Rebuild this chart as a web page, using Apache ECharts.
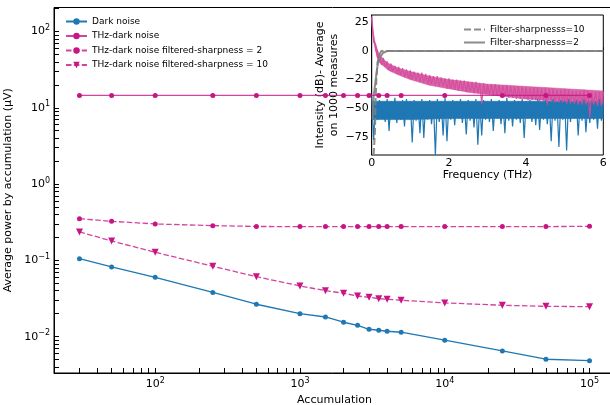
<!DOCTYPE html>
<html><head><meta charset="utf-8">
<script src="https://cdn.jsdelivr.net/npm/echarts@6/dist/echarts.min.js"></script>
<style>html,body{margin:0;padding:0;background:#fff}#c{width:610px;height:405px}</style>
</head><body><div id="c"></div>
<script>
// ---- main chart data ----
const accumulation = [30,50,100,250,500,1000,1500,2000,2500,3000,3500,4000,5000,10000,25000,50000,100000];
const darkNoise = [0.105,0.082,0.060,0.038,0.0266,0.0200,0.0181,0.01545,0.0141,0.0125,0.01214,0.01178,0.01143,0.00898,0.0065,0.00506,0.00485];
const thzDarkNoise = [14.5,14.5,14.5,14.5,14.5,14.5,14.5,14.5,14.5,14.5,14.5,14.5,14.5,14.5,14.5,14.5,14.5];
const filtered2 = [0.352,0.325,0.300,0.285,0.278,0.277,0.277,0.277,0.277,0.277,0.277,0.277,0.277,0.277,0.277,0.277,0.279];
const filtered10 = [0.2356,0.1795,0.1276,0.0837,0.0611,0.0462,0.0401,0.0371,0.0341,0.0328,0.0315,0.0309,0.0300,0.0277,0.0258,0.0250,0.0247];
const xTickLabels = [100,1000,10000,100000];
const yTickLabels = [0.01,0.1,1,10,100];
const xMinorTicks = [20,30,40,50,60,70,80,90,100,200,300,400,500,600,700,800,900,1000,2000,3000,4000,5000,6000,7000,8000,9000,10000,20000,30000,40000,50000,60000,70000,80000,90000,100000];
const yMinorTicks = [0.004,0.005,0.006,0.007,0.008,0.009,0.01,0.02,0.03,0.04,0.05,0.06,0.07,0.08,0.09,0.1,0.2,0.3,0.4,0.5,0.6,0.7,0.8,0.9,1,2,3,4,5,6,7,8,9,10,20,30,40,50,60,70,80,90,100,200];

// ---- inset data (dB) ----
// noisy traces sampled every 0.05 THz from 0 to 6
const freqStep = 0.05;
const insetDark = [-40,-78,-44,-60,-43,-58,-45,-62,-42,-70,-44,-59,-41,-63,-45,-60,-43,-66,-42,-58,-44,-80,-43,-61,-45,-72,-42,-76,-44,-60,-43,-64,-45,-91,-42,-62,-44,-74,-41,-79,-45,-60,-43,-65,-44,-59,-42,-63,-45,-73,-43,-61,-44,-67,-42,-82,-45,-74,-43,-60,-44,-62,-42,-70,-45,-59,-43,-64,-44,-72,-41,-61,-45,-66,-43,-60,-44,-63,-42,-76,-45,-59,-43,-62,-44,-65,-42,-69,-45,-60,-43,-64,-44,-79,-42,-61,-45,-84,-43,-60,-44,-87,-42,-62,-45,-59,-43,-74,-44,-61,-42,-71,-45,-63,-43,-60,-44,-68,-42,-61,-45];
const insetTHz = [30,8,6,-6,-3,-12,-6,-14,-9,-17,-11,-18,-13,-20,-14,-21,-15,-23,-16,-24,-17,-25,-18,-26,-19,-27,-19,-28,-20,-29,-21,-29,-22,-30,-22,-31,-23,-31,-24,-33,-24,-33,-25,-34,-25,-35,-26,-35,-26,-36,-27,-36,-27,-37,-27,-37,-28,-46,-28,-38,-29,-38,-29,-39,-29,-39,-30,-40,-30,-40,-30,-41,-31,-41,-31,-42,-31,-42,-31,-42,-32,-43,-32,-43,-32,-43,-32,-44,-33,-44,-33,-47,-33,-44,-33,-45,-34,-45,-34,-45,-34,-46,-34,-46,-35,-46,-35,-47,-35,-47,-35,-47,-35,-58,-36,-47,-36,-48,-36,-48,-36];
// dense-band envelopes of the two traces
const darkBandFreq = [0.02,1,2,3,4,5,6];
const darkBandLow = [-60,-60,-59,-59,-59,-59,-59];
const darkBandHigh = [-44,-44,-44,-44,-44,-44,-44];
const thzBandFreq = [0,0.05,0.1,0.15,0.2,0.3,0.4,0.5,0.7,1.0,1.5,2.0,2.5,3.0,3.5,4.0,4.5,5.0,5.5,6.0];
const thzBandLow = [25,8,0,-6,-10,-13,-16,-18,-21,-25,-30,-33,-36,-38,-40,-42,-43,-44,-45,-46];
const thzBandHigh = [30,14,6,1,-3,-7,-10,-12,-15,-18,-22,-25,-27,-29,-30,-31,-32,-33,-34,-35];
const filterSharp10 = [[0.05,-91],[0.085,-70],[0.1,-45],[0.12,-25],[0.15,-10],[0.2,-3],[0.25,0],[6,0]];
const filterSharp2 = [[0.02,-60],[0.05,-40],[0.1,-26],[0.15,-13],[0.2,-6],[0.3,-1.5],[0.4,0],[6,0]];

const pink = '#c71585';
const pinkLight = '#d44c9c';
const blue = '#1f77b4';
const grey = 'rgba(128,128,128,0.9)';
const FONT = 'DejaVu Sans';

function pairs(xs, ys){ return xs.map((x,i)=>[x, ys[i]]); }
function sampled(ys){ return ys.map((y,i)=>[+(i*freqStep).toFixed(3), y]); }
function pow10Label(v){
  const e = Math.round(Math.log10(v));
  const s = e < 0 ? '\u2212' + Math.abs(e) : String(e);
  return '{b|10}{s|' + s + '}';
}
const richSup = {
  b: {fontFamily: FONT, fontSize: 11, color: '#000'},
  s: {fontFamily: FONT, fontSize: 8, color: '#000', padding: [0,0,7,0]}
};
// filled band between two envelopes, drawn through the inset axes
function bandSeries(name, freq, lo, hi, color, opacity){
  return {
    name: name, type: 'custom', xAxisIndex: 1, yAxisIndex: 1, z: 2, silent: true, clip: true,
    data: freq.slice(0, -1).map((f, i) => [f, lo[i], hi[i], freq[i+1], lo[i+1], hi[i+1]]),
    encode: {x: [0, 3], y: [1, 2, 4, 5]},
    renderItem: (params, api) => {
      const pts = [
        api.coord([api.value(0), api.value(1)]),
        api.coord([api.value(0), api.value(2)]),
        api.coord([api.value(3), api.value(5)]),
        api.coord([api.value(3), api.value(4)])
      ];
      return {type: 'polygon', shape: {points: pts}, style: {fill: color, stroke: color, lineWidth: 0.6, opacity: opacity}};
    }
  };
}

const chart = echarts.init(document.getElementById('c'), null, {renderer: 'canvas'});
chart.setOption({
  animation: false,
  backgroundColor: '#fff',
  textStyle: {fontFamily: FONT},
  grid: [
    {left: 54, right: -5, top: 7.5, bottom: 32, show: true, borderColor: '#000', borderWidth: 1, z: 0,
      containLabel: false, outerBoundsMode: 'none'},
    {left: 371.7, top: 15, width: 231.6, height: 140, show: true, backgroundColor: '#fff', borderColor: '#000', borderWidth: 1, z: 1,
      containLabel: false, outerBoundsMode: 'none'}
  ],
  legend: [
    {
      left: 60, top: 12, orient: 'vertical', itemWidth: 21, itemHeight: 8, itemGap: 5.5,
      textStyle: {fontFamily: FONT, fontSize: 9, color: '#000', padding: [0,0,0,0]},
      data: ['Dark noise','THz-dark noise','THz-dark noise filtered-sharpness = 2','THz-dark noise filtered-sharpness = 10']
    },
    {
      left: 458, top: 20, orient: 'vertical', itemWidth: 21, itemHeight: 8, itemGap: 4,
      itemStyle: {opacity: 0},
      textStyle: {fontFamily: FONT, fontSize: 9, color: '#000'},
      data: ['Filter-sharpnesss=10','Filter-sharpnesss=2']
    }
  ],
  xAxis: [
    {
      gridIndex: 0, type: 'log', logBase: 10, min: 20, max: 150000,
      name: 'Accumulation', nameLocation: 'middle', nameGap: 16,
      nameTextStyle: {fontFamily: FONT, fontSize: 11, color: '#000'},
      axisLine: {show: true, lineStyle: {color: '#000', width: 1}},
      axisTick: {show: true, inside: true, length: 5, customValues: xMinorTicks, lineStyle: {color: '#000', width: 1}},
      axisLabel: {show: true, customValues: xTickLabels, margin: 4, formatter: v => pow10Label(v), rich: richSup},
      splitLine: {show: false}, minorTick: {show: false}
    },
    {
      gridIndex: 1, type: 'value', min: 0, max: 6, interval: 2,
      name: 'Frequency (THz)', nameLocation: 'middle', nameGap: 15,
      nameTextStyle: {fontFamily: FONT, fontSize: 11, color: '#000'},
      axisLine: {show: true, lineStyle: {color: '#000', width: 1}},
      axisTick: {show: true, inside: true, length: 4, lineStyle: {color: '#000'}},
      axisLabel: {fontFamily: FONT, fontSize: 11, color: '#000', margin: 3},
      splitLine: {show: false}
    }
  ],
  yAxis: [
    {
      gridIndex: 0, type: 'log', logBase: 10, min: 0.00334, max: 206,
      name: 'Average power by accumulation (\u03bcV)', nameLocation: 'middle', nameGap: 34,
      nameTextStyle: {fontFamily: FONT, fontSize: 11, color: '#000'},
      axisLine: {show: true, lineStyle: {color: '#000', width: 1}},
      axisTick: {show: true, inside: true, length: 5, customValues: yMinorTicks, lineStyle: {color: '#000', width: 1}},
      axisLabel: {show: true, customValues: yTickLabels, margin: 4, formatter: v => pow10Label(v), rich: richSup},
      splitLine: {show: false}, minorTick: {show: false}
    },
    {
      gridIndex: 1, type: 'value', min: -91, max: 31.5,
      name: 'Intensity (dB)- Average\non 1000 measures', nameLocation: 'middle', nameGap: 27,
      nameTextStyle: {fontFamily: FONT, fontSize: 11, color: '#000', lineHeight: 14},
      axisLine: {show: true, lineStyle: {color: '#000', width: 1}},
      axisTick: {show: true, inside: true, length: 4, customValues: [-75,-50,-25,0,25], lineStyle: {color: '#000'}},
      axisLabel: {fontFamily: FONT, fontSize: 11, color: '#000', margin: 3, customValues: [-75,-50,-25,0,25],
        formatter: v => v < 0 ? '\u2212' + Math.abs(v) : String(v)},
      splitLine: {show: false}
    }
  ],
  series: [
    {name: 'Dark noise', type: 'line', xAxisIndex: 0, yAxisIndex: 0, z: 5, data: pairs(accumulation, darkNoise),
      symbol: 'circle', symbolSize: 5, lineStyle: {color: blue, width: 1.3}, itemStyle: {color: blue}},
    {name: 'THz-dark noise', type: 'line', xAxisIndex: 0, yAxisIndex: 0, z: 5, data: pairs(accumulation, thzDarkNoise),
      symbol: 'circle', symbolSize: 5, lineStyle: {color: pink, width: 1.3, opacity: 0.8}, itemStyle: {color: pink}},
    {name: 'THz-dark noise filtered-sharpness = 2', type: 'line', xAxisIndex: 0, yAxisIndex: 0, z: 5, data: pairs(accumulation, filtered2),
      symbol: 'circle', symbolSize: 5, lineStyle: {color: pink, width: 1.3, type: [5.5, 2.4], opacity: 0.8}, itemStyle: {color: pink}},
    {name: 'THz-dark noise filtered-sharpness = 10', type: 'line', xAxisIndex: 0, yAxisIndex: 0, z: 5, data: pairs(accumulation, filtered10),
      symbol: 'triangle', symbolRotate: 180, symbolSize: 7, lineStyle: {color: pink, width: 1.3, type: [5.5, 2.4], opacity: 0.8}, itemStyle: {color: pink}},
    // inset: dark-noise spectrum
    bandSeries('dark band', darkBandFreq, darkBandLow, darkBandHigh, blue, 1),
    {name: 'inset dark', type: 'line', xAxisIndex: 1, yAxisIndex: 1, z: 2, data: sampled(insetDark),
      symbol: 'none', lineStyle: {color: blue, width: 1.2}, silent: true},
    // inset: THz-dark spectrum
    bandSeries('thz band', thzBandFreq, thzBandLow, thzBandHigh, pinkLight, 0.85),
    {name: 'inset thz', type: 'line', xAxisIndex: 1, yAxisIndex: 1, z: 2, data: sampled(insetTHz),
      symbol: 'none', lineStyle: {color: pinkLight, width: 1.2, opacity: 0.9}, silent: true},
    {name: 'Filter-sharpnesss=10', type: 'line', xAxisIndex: 1, yAxisIndex: 1, z: 3, data: filterSharp10,
      symbol: 'none', lineStyle: {color: grey, width: 2, type: [7, 3]}, itemStyle: {color: grey}},
    {name: 'Filter-sharpnesss=2', type: 'line', xAxisIndex: 1, yAxisIndex: 1, z: 3, data: filterSharp2,
      symbol: 'none', lineStyle: {color: grey, width: 2}, itemStyle: {color: grey}}
  ]
});
</script></body></html>
